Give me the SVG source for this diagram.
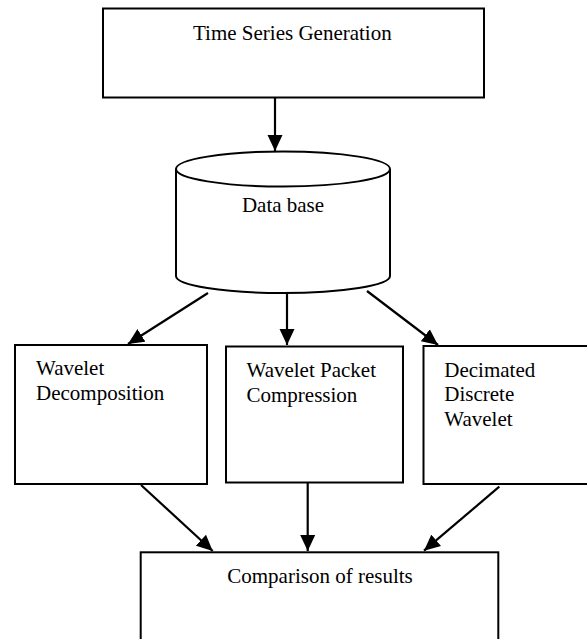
<svg xmlns="http://www.w3.org/2000/svg" width="587" height="639" viewBox="0 0 587 639">
<style>
.box{fill:#fff;stroke:#000;stroke-width:2}
.cyl{fill:#fff;stroke:#000;stroke-width:2}
.lbl{font-family:"Liberation Serif","Times New Roman",serif;font-size:21px;fill:#000}
.con{stroke:#000;stroke-width:2.2;fill:none;marker-end:url(#ah)}
</style>
<defs>
<marker id="ah" markerUnits="userSpaceOnUse" markerWidth="17" markerHeight="16" refX="16" refY="8" orient="auto">
<path d="M0,0.5 L16,8 L0,15.5 z" fill="#000"/>
</marker>
</defs>
<rect width="587" height="639" fill="#fff"/>
<g id="n-timeseries">
<rect class="box" x="103" y="8.5" width="381" height="89"/>
<text class="lbl" x="193" y="40">Time Series Generation</text>
</g>
<g id="n-database">
<path class="cyl" d="M176,169 L176,276 A107,17 0 0 0 390,276 L390,169"/>
<ellipse class="cyl" cx="283" cy="169" rx="107" ry="17.5"/>
<text class="lbl" x="283" y="212" text-anchor="middle">Data base</text>
</g>
<g id="n-wd">
<rect class="box" x="15" y="345" width="192" height="139"/>
<text class="lbl" x="36" y="375">Wavelet</text>
<text class="lbl" x="36" y="399.5">Decomposition</text>
</g>
<g id="n-wpc">
<rect class="box" x="226" y="346.5" width="177" height="136"/>
<text class="lbl" x="246.5" y="376.7">Wavelet Packet</text>
<text class="lbl" x="246.5" y="401.5">Compression</text>
</g>
<g id="n-ddw">
<rect class="box" x="423.5" y="346" width="170" height="138"/>
<text class="lbl" x="444.3" y="376.7">Decimated</text>
<text class="lbl" x="444.3" y="401">Discrete</text>
<text class="lbl" x="444.3" y="425.5">Wavelet</text>
</g>
<g id="n-compare">
<rect class="box" x="140.7" y="552.3" width="357.6" height="100"/>
<text class="lbl" x="320" y="582.7" text-anchor="middle">Comparison of results</text>
</g>
<g id="connectors">
<line class="con" x1="275" y1="98" x2="275" y2="151"/>
<line class="con" x1="208" y1="293" x2="128" y2="344"/>
<line class="con" x1="287" y1="293" x2="287" y2="345"/>
<line class="con" x1="367" y1="291" x2="438" y2="345"/>
<line class="con" x1="141" y1="485" x2="212.7" y2="551"/>
<line class="con" x1="307.7" y1="483" x2="307.7" y2="551"/>
<line class="con" x1="499.3" y1="486.7" x2="424" y2="550.7"/>
</g>
</svg>
